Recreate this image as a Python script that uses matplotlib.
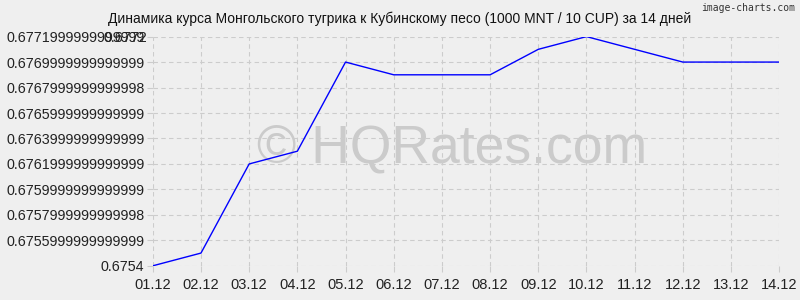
import matplotlib
matplotlib.use("Agg")
import matplotlib.pyplot as plt

dates = ["01.12", "02.12", "03.12", "04.12", "05.12", "06.12", "07.12",
         "08.12", "09.12", "10.12", "11.12", "12.12", "13.12", "14.12"]
rates = [0.6754, 0.6755, 0.6762, 0.6763, 0.6770, 0.6769, 0.6769,
         0.6769, 0.6771, 0.6772, 0.6771, 0.6770, 0.6770, 0.6770]
ytick_values = [0.6754, 0.6756, 0.6758, 0.6760, 0.6762, 0.6764,
                0.6766, 0.6768, 0.6770, 0.6772]
ytick_labels = ["0.6754", "0.6755999999999999", "0.6757999999999998",
                "0.6759999999999999", "0.6761999999999999", "0.6763999999999999",
                "0.6765999999999999", "0.6767999999999998", "0.6769999999999999",
                "0.6771999999999999"]
extra_top_label = "0.6772"
title = "Динамика курса Монгольского тугрика к Кубинскому песо (1000 MNT / 10 CUP) за 14 дней"

plt.rcParams['font.family'] = ['Liberation Sans', 'DejaVu Sans']
bg = "#efefef"
fig = plt.figure(figsize=(8, 3), dpi=100, facecolor=bg)
ax = fig.add_axes([0.191, 0.114, 0.783, 0.764], facecolor=bg)

x = list(range(len(dates)))
ax.plot(x, rates, color="#0000ff", lw=1.0, zorder=3)

ax.set_xlim(0, len(dates) - 1)
ax.set_ylim(ytick_values[0], ytick_values[-1])
ax.set_xticks(x)
ax.set_xticklabels(dates, fontsize=10.5, color="#222222")
ax.set_yticks(ytick_values)
ax.set_yticklabels(ytick_labels, fontsize=10.3, color="#222222")
ax.tick_params(axis='both', length=4, color="#cccccc", width=0.8, pad=2)
ax.tick_params(axis='x', pad=5)
for s in ax.spines.values():
    s.set_visible(False)
ax.grid(True, color="#cccccc", linestyle=(0, (4, 3)), linewidth=0.8)

# overlapping second label at top
ax.text(-0.0095, ytick_values[-1], extra_top_label, transform=ax.get_yaxis_transform(),
        ha="right", va="center_baseline", fontsize=10.3, color="#222222")

fig.text(0.5, 0.938, title, ha="center", va="center", fontsize=10, color="#111111")
fig.text(0.994, 0.972, "image-charts.com", ha="right", va="center", fontsize=7,
         family="DejaVu Sans Mono", color="#333333")
ax.text(0.478, 0.51, "© HQRates.com", transform=ax.transAxes, ha="center", va="center",
        fontsize=38.5, color="#cbcbcb", zorder=1)

fig.savefig("out.png", dpi=100, facecolor=bg)
